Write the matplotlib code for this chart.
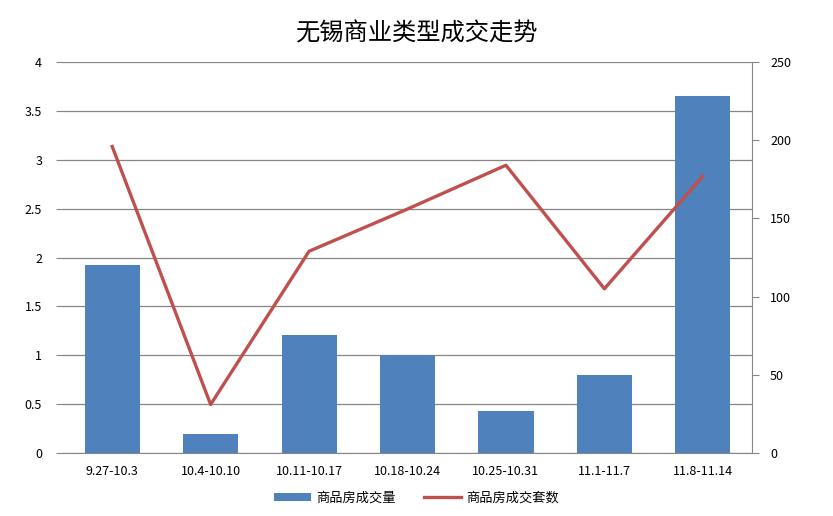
import matplotlib
matplotlib.use("Agg")
import matplotlib.pyplot as plt
import numpy as np

plt.rcParams['font.family'] = ['Noto Sans CJK SC', 'DejaVu Sans']

categories = ["9.27-10.3", "10.4-10.10", "10.11-10.17", "10.18-10.24",
              "10.25-10.31", "11.1-11.7", "11.8-11.14"]
volume = [1.92, 0.19, 1.21, 1.00, 0.43, 0.80, 3.65]
units = [196, 31, 129, 156, 184, 105, 177]
title = "无锡商业类型成交走势"
bar_label = "商品房成交量"
line_label = "商品房成交套数"

fig = plt.figure(figsize=(8.33, 5.16), dpi=100)
ax = fig.add_axes([0.0756, 0.1221, 0.8272, 0.7577])
x = np.arange(len(categories))
grid_c = "#868686"

bars = ax.bar(x, volume, width=0.56, color="#4F81BD", zorder=2, label=bar_label)
ax.set_ylim(0, 4)
ax.set_xlim(-0.5, len(categories) - 0.5)
ax.set_yticks(np.arange(0, 4.01, 0.5))
ax.set_yticklabels(["0", "0.5", "1", "1.5", "2", "2.5", "3", "3.5", "4"])
ax.yaxis.grid(True, color=grid_c, linewidth=0.9, zorder=0)
ax.set_axisbelow(True)
for s in ["left", "top", "right"]:
    ax.spines[s].set_visible(False)
ax.spines["bottom"].set_color(grid_c)
ax.tick_params(axis="y", length=5, color=grid_c, labelsize=9, pad=10)
ax.tick_params(axis="x", length=0, labelsize=9, pad=9)
ax.set_xticks(x)
ax.set_xticklabels(categories)

ax2 = ax.twinx()
line, = ax2.plot(x, units, color="#C0504D", linewidth=2.4, zorder=3, label=line_label)
ax2.set_ylim(0, 250)
ax2.set_yticks(np.arange(0, 251, 50))
for s in ["left", "top", "bottom"]:
    ax2.spines[s].set_visible(False)
ax2.spines["right"].set_color(grid_c)
ax2.tick_params(axis="y", length=5, color=grid_c, labelsize=9, pad=8)

fig.suptitle(title, y=0.96, fontsize=17.5, fontweight="medium")
fig.legend([bars, line], [bar_label, line_label], loc="center",
           bbox_to_anchor=(0.5, 0.035), ncol=2, frameon=False, fontsize=9.5,
           handlelength=2.8, handleheight=0.5, handletextpad=0.4,
           columnspacing=2.2)

fig.savefig("out.png", dpi=100)
